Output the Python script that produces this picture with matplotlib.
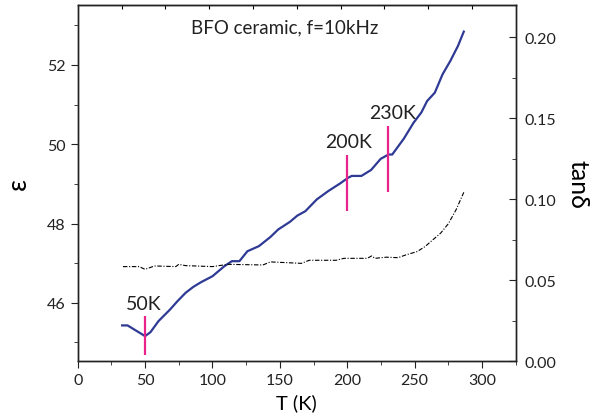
import numpy as np
import matplotlib.pyplot as plt
from matplotlib.ticker import MultipleLocator, FixedLocator

# dielectric constant (left axis)
T_eps = [33, 37, 50, 54, 60, 68.5, 74, 80, 85.7, 91.5, 100, 108.7, 114.4, 120,
         125.9, 134.5, 143, 148.8, 157.4, 163, 168.9, 177.5, 186, 194.7, 200.5,
         203.3, 210.5, 217.7, 224.8, 230.6, 233.4, 242, 249.2, 255, 259.3, 265,
         270.7, 276.5, 282.2, 286.5]
eps = [45.43, 45.43, 45.16, 45.26, 45.54, 45.83, 46.04, 46.25, 46.40, 46.52,
       46.67, 46.92, 47.05, 47.05, 47.30, 47.43, 47.66, 47.85, 48.04, 48.20,
       48.31, 48.61, 48.82, 49.01, 49.15, 49.20, 49.20, 49.35, 49.63, 49.74,
       49.74, 50.14, 50.54, 50.80, 51.09, 51.30, 51.76, 52.10, 52.48, 52.84]

# loss tangent (right axis)
T_tan = [33.6, 45.6, 50, 57, 72.8, 75, 80, 100, 111.6, 137.4, 143, 166, 171.8,
         191.8, 197.6, 214.8, 218.2, 220.5, 229, 237.7, 243.5, 252, 257.8,
         263.5, 269.3, 275, 280.8, 286.5]
tan_d = [0.0585, 0.0585, 0.0568, 0.0589, 0.0585, 0.0599, 0.0591, 0.0585, 0.0599,
         0.0595, 0.0614, 0.0605, 0.0624, 0.0624, 0.0636, 0.0636, 0.0651, 0.0636,
         0.0643, 0.0640, 0.0657, 0.0678, 0.0709, 0.0750, 0.0791, 0.0849, 0.0936,
         0.1043]

# transition markers
mark_T = [50, 200, 230]
mark_lo = [44.69, 48.31, 48.80]
mark_hi = [45.66, 49.72, 50.46]
mark_labels = ["50K", "200K", "230K"]
label_pos = [(49, 45.98), (201, 50.08), (234, 50.80)]

plt.rcParams['font.family'] = ['Lato', 'DejaVu Sans']

fig = plt.figure(figsize=(6.07, 4.14), dpi=100)
ax = fig.add_axes([0.128, 0.1244, 0.722, 0.862])
ax.plot(T_eps, eps, color='#2E3A94', lw=1.6)
for t, lo, hi in zip(mark_T, mark_lo, mark_hi):
    ax.vlines(t, lo, hi, color='#E8248C', lw=1.6)
for lab, (x, y) in zip(mark_labels, label_pos):
    ax.text(x, y, lab, ha='center', va='center', fontsize=14, color='#222222')
ax.text(153.7, 52.97, "BFO ceramic, f=10kHz", ha='center', va='center',
        fontsize=13.5, color='#222222')

ax.set_xlim(0, 325.2)
ax.set_ylim(44.52, 53.52)
ax.xaxis.set_major_locator(MultipleLocator(50))
ax.xaxis.set_minor_locator(MultipleLocator(25))
ax.yaxis.set_major_locator(MultipleLocator(2))
ax.yaxis.set_minor_locator(MultipleLocator(1))
ax.tick_params(which='major', direction='out', length=5, labelsize=11.5, colors='#222222')
ax.tick_params(which='minor', direction='out', length=3, colors='#222222')
ax.set_xlabel("T (K)", fontsize=14.5, labelpad=4)
ax.set_ylabel("ε", fontsize=19, labelpad=12)

ax2 = ax.twinx()
ax2.plot(T_tan, tan_d, color='black', lw=0.8, ls=(0, (4, 1.5, 1, 1.5)))
ax2.set_ylim(0, 0.22)
ax2.yaxis.set_major_locator(MultipleLocator(0.05))
ax2.yaxis.set_minor_locator(MultipleLocator(0.025))
ax2.yaxis.set_major_formatter(plt.FormatStrFormatter('%.2f'))
ax2.tick_params(which='major', direction='in', length=5, labelsize=11.5, colors='#222222', pad=6)
ax2.tick_params(which='minor', direction='in', length=3, colors='#222222')
ax2.set_ylabel("tanδ", fontsize=18, rotation=-90, labelpad=24)

# top axis: plain ticks at tenths of the width
top = ax.secondary_xaxis('top')
top.xaxis.set_major_locator(FixedLocator(np.linspace(0, 325.2, 11)[1:-1]))
top.tick_params(direction='in', length=3, labeltop=False)

for a in (ax, ax2):
    for s in a.spines.values():
        s.set_linewidth(1.0)
        s.set_color('#222222')

fig.savefig("out.png", dpi=100)
